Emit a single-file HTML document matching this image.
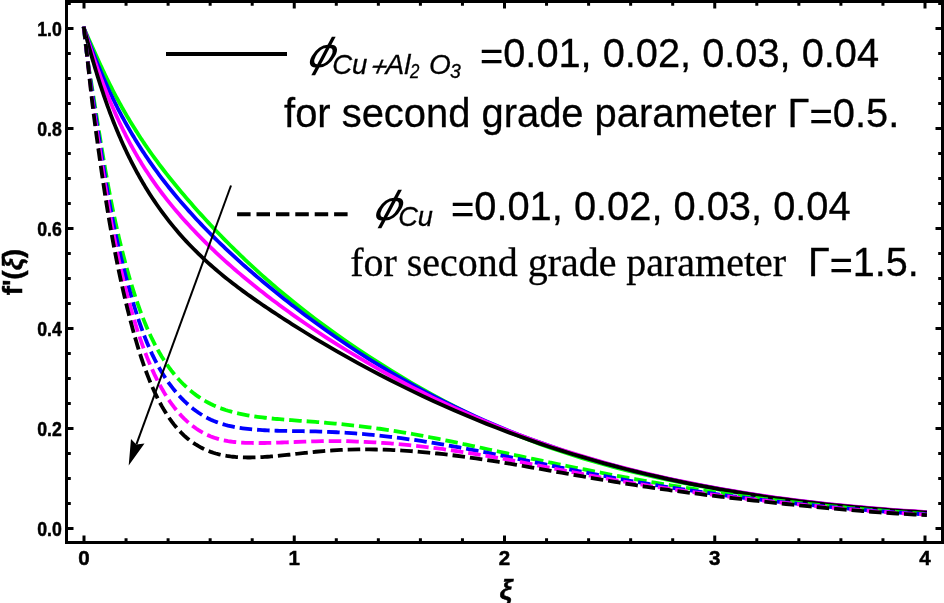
<!DOCTYPE html>
<html><head><meta charset="utf-8"><title>f'(ξ) plot</title>
<style>
html,body{margin:0;padding:0;background:#fff;}
body{width:944px;height:603px;position:relative;overflow:hidden;}
</style></head><body>
<svg width="944" height="603" viewBox="0 0 944 603" style="position:absolute;left:0;top:0;display:block">
<rect width="944" height="603" fill="#fff"/>
<path d="M84.00,28.50L84.79,30.23L85.58,31.97L86.37,33.71L87.15,35.46L87.94,37.22L88.73,38.97L89.52,40.73L90.31,42.50L91.10,44.26L91.88,46.02L92.67,47.78L93.46,49.54L94.25,51.30L95.04,53.05L95.83,54.80L96.61,56.55L97.40,58.29L98.19,60.02L98.98,61.75L99.77,63.47L100.56,65.18L101.35,66.88L102.13,68.57L102.92,70.25L103.71,71.93L104.50,73.58L105.29,75.23L106.08,76.87L106.86,78.49L107.65,80.10L108.44,81.69L109.23,83.28L110.02,84.85L110.81,86.41L111.60,87.96L112.38,89.50L113.17,91.02L113.96,92.54L114.75,94.04L115.54,95.53L116.33,97.02L117.11,98.49L117.90,99.95L118.69,101.40L119.48,102.83L120.27,104.26L121.06,105.68L121.84,107.09L122.63,108.49L123.42,109.88L124.21,111.26L125.00,112.63L125.79,113.99L126.58,115.34L127.36,116.68L128.15,118.01L128.94,119.34L129.73,120.65L130.52,121.96L131.31,123.25L132.09,124.54L132.88,125.82L133.67,127.09L134.46,128.35L135.25,129.61L136.04,130.86L136.83,132.09L137.61,133.33L138.40,134.55L139.19,135.76L139.98,136.97L140.77,138.17L141.56,139.37L142.34,140.55L143.13,141.73L143.92,142.90L144.71,144.07L145.50,145.22L146.29,146.37L147.07,147.52L149.53,151.04L151.98,154.49L154.43,157.89L156.89,161.24L159.34,164.53L161.79,167.77L164.25,170.97L166.70,174.12L169.15,177.23L171.60,180.29L174.06,183.32L176.51,186.31L178.96,189.27L181.42,192.19L183.87,195.09L186.32,197.95L188.77,200.79L191.23,203.61L193.68,206.40L196.13,209.16L198.59,211.90L201.04,214.62L203.49,217.32L205.94,219.99L208.40,222.64L210.85,225.26L213.30,227.86L215.76,230.44L218.21,233.00L220.66,235.54L223.12,238.06L225.57,240.55L228.02,243.02L230.47,245.48L232.93,247.91L235.38,250.32L237.83,252.71L240.29,255.08L242.74,257.43L245.19,259.76L247.64,262.07L250.10,264.36L252.55,266.64L255.00,268.89L257.46,271.13L259.91,273.34L262.36,275.54L264.81,277.72L267.27,279.89L269.72,282.03L272.17,284.16L274.63,286.27L277.08,288.36L279.53,290.43L281.99,292.49L284.44,294.53L286.89,296.56L289.34,298.57L291.80,300.57L294.25,302.54L304.94,311.00L315.63,319.18L326.32,327.11L337.01,334.80L347.70,342.27L358.39,349.53L369.08,356.59L379.78,363.47L390.47,370.15L401.16,376.67L411.85,383.02L422.54,389.18L433.23,395.16L443.92,400.95L454.61,406.54L465.30,411.93L475.99,417.13L486.68,422.12L497.37,426.91L508.06,431.50L518.75,435.89L529.44,440.09L540.14,444.10L550.83,447.92L561.52,451.56L572.21,455.03L582.90,458.32L593.59,461.46L604.28,464.46L614.97,467.31L625.66,470.04L636.35,472.66L647.04,475.16L657.73,477.56L668.42,479.86L679.11,482.07L689.81,484.20L700.50,486.24L711.19,488.20L721.88,490.10L732.57,491.91L743.26,493.66L753.95,495.33L764.64,496.92L775.33,498.44L786.02,499.89L796.71,501.26L807.40,502.57L818.09,503.80L828.78,504.97L839.47,506.07L850.17,507.11L860.86,508.09L871.55,509.02L882.24,509.88L892.93,510.69L903.62,511.45L914.31,512.16L925.00,512.83" fill="none" stroke="#00ff00" stroke-width="3.80" stroke-linecap="square"/>
<path d="M84.00,28.50L84.79,30.64L85.58,32.77L86.37,34.90L87.15,37.01L87.94,39.11L88.73,41.20L89.52,43.29L90.31,45.36L91.10,47.41L91.88,49.46L92.67,51.49L93.46,53.51L94.25,55.52L95.04,57.51L95.83,59.50L96.61,61.46L97.40,63.41L98.19,65.35L98.98,67.27L99.77,69.18L100.56,71.07L101.35,72.94L102.13,74.80L102.92,76.64L103.71,78.47L104.50,80.28L105.29,82.07L106.08,83.84L106.86,85.60L107.65,87.34L108.44,89.06L109.23,90.76L110.02,92.46L110.81,94.13L111.60,95.79L112.38,97.43L113.17,99.06L113.96,100.67L114.75,102.27L115.54,103.86L116.33,105.43L117.11,106.98L117.90,108.53L118.69,110.06L119.48,111.57L120.27,113.08L121.06,114.57L121.84,116.04L122.63,117.51L123.42,118.96L124.21,120.40L125.00,121.83L125.79,123.25L126.58,124.66L127.36,126.05L128.15,127.43L128.94,128.81L129.73,130.17L130.52,131.52L131.31,132.86L132.09,134.19L132.88,135.52L133.67,136.83L134.46,138.13L135.25,139.42L136.04,140.71L136.83,141.98L137.61,143.25L138.40,144.50L139.19,145.75L139.98,146.99L140.77,148.22L141.56,149.45L142.34,150.66L143.13,151.87L143.92,153.07L144.71,154.26L145.50,155.44L146.29,156.61L147.07,157.78L149.53,161.36L151.98,164.88L154.43,168.32L156.89,171.70L159.34,175.02L161.79,178.28L164.25,181.48L166.70,184.63L169.15,187.73L171.60,190.77L174.06,193.77L176.51,196.72L178.96,199.63L181.42,202.50L183.87,205.32L186.32,208.11L188.77,210.87L191.23,213.59L193.68,216.27L196.13,218.93L198.59,221.55L201.04,224.14L203.49,226.70L205.94,229.24L208.40,231.74L210.85,234.22L213.30,236.68L215.76,239.10L218.21,241.50L220.66,243.88L223.12,246.24L225.57,248.57L228.02,250.88L230.47,253.16L232.93,255.43L235.38,257.68L237.83,259.90L240.29,262.11L242.74,264.30L245.19,266.47L247.64,268.63L250.10,270.76L252.55,272.88L255.00,274.99L257.46,277.08L259.91,279.15L262.36,281.21L264.81,283.26L267.27,285.29L269.72,287.31L272.17,289.31L274.63,291.30L277.08,293.28L279.53,295.25L281.99,297.21L284.44,299.15L286.89,301.09L289.34,303.01L291.80,304.92L294.25,306.81L304.94,314.94L315.63,322.84L326.32,330.52L337.01,337.98L347.70,345.24L358.39,352.28L369.08,359.11L379.78,365.74L390.47,372.17L401.16,378.41L411.85,384.45L422.54,390.30L433.23,395.96L443.92,401.43L454.61,406.72L465.30,411.82L475.99,416.74L486.68,421.48L497.37,426.04L508.06,430.44L518.75,434.67L529.44,438.74L540.14,442.64L550.83,446.40L561.52,450.00L572.21,453.45L582.90,456.77L593.59,459.94L604.28,462.99L614.97,465.92L625.66,468.72L636.35,471.42L647.04,474.00L657.73,476.48L668.42,478.86L679.11,481.14L689.81,483.33L700.50,485.43L711.19,487.44L721.88,489.37L732.57,491.23L743.26,493.00L753.95,494.69L764.64,496.30L775.33,497.83L786.02,499.28L796.71,500.66L807.40,501.97L818.09,503.21L828.78,504.38L839.47,505.48L850.17,506.52L860.86,507.50L871.55,508.42L882.24,509.28L892.93,510.09L903.62,510.85L914.31,511.56L925.00,512.22" fill="none" stroke="#0000ff" stroke-width="3.80" stroke-linecap="square"/>
<path d="M84.00,28.50L84.79,30.96L85.58,33.41L86.37,35.85L87.15,38.27L87.94,40.68L88.73,43.08L89.52,45.46L90.31,47.82L91.10,50.17L91.88,52.51L92.67,54.83L93.46,57.13L94.25,59.42L95.04,61.69L95.83,63.94L96.61,66.17L97.40,68.39L98.19,70.58L98.98,72.76L99.77,74.92L100.56,77.06L101.35,79.18L102.13,81.28L102.92,83.36L103.71,85.42L104.50,87.46L105.29,89.48L106.08,91.47L106.86,93.45L107.65,95.40L108.44,97.34L109.23,99.25L110.02,101.15L110.81,103.02L111.60,104.88L112.38,106.72L113.17,108.54L113.96,110.34L114.75,112.12L115.54,113.88L116.33,115.63L117.11,117.36L117.90,119.07L118.69,120.76L119.48,122.44L120.27,124.10L121.06,125.75L121.84,127.38L122.63,128.99L123.42,130.58L124.21,132.17L125.00,133.73L125.79,135.28L126.58,136.82L127.36,138.34L128.15,139.84L128.94,141.34L129.73,142.81L130.52,144.28L131.31,145.73L132.09,147.16L132.88,148.59L133.67,150.00L134.46,151.39L135.25,152.78L136.04,154.15L136.83,155.50L137.61,156.85L138.40,158.18L139.19,159.50L139.98,160.81L140.77,162.11L141.56,163.40L142.34,164.67L143.13,165.94L143.92,167.19L144.71,168.43L145.50,169.66L146.29,170.88L147.07,172.09L149.53,175.79L151.98,179.40L154.43,182.92L156.89,186.36L159.34,189.71L161.79,192.99L164.25,196.19L166.70,199.33L169.15,202.40L171.60,205.41L174.06,208.36L176.51,211.26L178.96,214.11L181.42,216.91L183.87,219.67L186.32,222.38L188.77,225.05L191.23,227.69L193.68,230.29L196.13,232.86L198.59,235.39L201.04,237.90L203.49,240.37L205.94,242.81L208.40,245.22L210.85,247.60L213.30,249.95L215.76,252.28L218.21,254.57L220.66,256.85L223.12,259.09L225.57,261.32L228.02,263.51L230.47,265.69L232.93,267.84L235.38,269.97L237.83,272.08L240.29,274.17L242.74,276.24L245.19,278.28L247.64,280.31L250.10,282.32L252.55,284.31L255.00,286.29L257.46,288.24L259.91,290.18L262.36,292.11L264.81,294.02L267.27,295.91L269.72,297.79L272.17,299.65L274.63,301.50L277.08,303.34L279.53,305.16L281.99,306.97L284.44,308.77L286.89,310.55L289.34,312.32L291.80,314.08L294.25,315.83L304.94,323.29L315.63,330.53L326.32,337.55L337.01,344.37L347.70,351.00L358.39,357.44L369.08,363.70L379.78,369.79L390.47,375.72L401.16,381.49L411.85,387.10L422.54,392.55L433.23,397.85L443.92,403.00L454.61,407.99L465.30,412.82L475.99,417.51L486.68,422.04L497.37,426.43L508.06,430.66L518.75,434.76L529.44,438.71L540.14,442.52L550.83,446.19L561.52,449.73L572.21,453.14L582.90,456.42L593.59,459.57L604.28,462.61L614.97,465.53L625.66,468.33L636.35,471.03L647.04,473.62L657.73,476.11L668.42,478.49L679.11,480.79L689.81,482.98L700.50,485.09L711.19,487.12L721.88,489.06L732.57,490.91L743.26,492.69L753.95,494.38L764.64,495.99L775.33,497.53L786.02,498.98L796.71,500.37L807.40,501.67L818.09,502.91L828.78,504.08L839.47,505.18L850.17,506.22L860.86,507.20L871.55,508.12L882.24,508.98L892.93,509.79L903.62,510.55L914.31,511.26L925.00,511.92" fill="none" stroke="#ff00ff" stroke-width="3.80" stroke-linecap="square"/>
<path d="M84.00,28.50L84.79,31.48L85.58,34.44L86.37,37.37L87.15,40.27L87.94,43.15L88.73,46.00L89.52,48.83L90.31,51.63L91.10,54.40L91.88,57.14L92.67,59.86L93.46,62.55L94.25,65.22L95.04,67.85L95.83,70.46L96.61,73.04L97.40,75.60L98.19,78.13L98.98,80.63L99.77,83.10L100.56,85.54L101.35,87.96L102.13,90.35L102.92,92.71L103.71,95.04L104.50,97.35L105.29,99.63L106.08,101.88L106.86,104.10L107.65,106.30L108.44,108.46L109.23,110.61L110.02,112.72L110.81,114.82L111.60,116.88L112.38,118.93L113.17,120.95L113.96,122.94L114.75,124.91L115.54,126.86L116.33,128.79L117.11,130.69L117.90,132.58L118.69,134.44L119.48,136.28L120.27,138.10L121.06,139.90L121.84,141.68L122.63,143.43L123.42,145.17L124.21,146.90L125.00,148.60L125.79,150.28L126.58,151.95L127.36,153.59L128.15,155.22L128.94,156.84L129.73,158.43L130.52,160.01L131.31,161.58L132.09,163.12L132.88,164.65L133.67,166.17L134.46,167.67L135.25,169.15L136.04,170.62L136.83,172.08L137.61,173.52L138.40,174.94L139.19,176.36L139.98,177.75L140.77,179.14L141.56,180.51L142.34,181.87L143.13,183.22L143.92,184.55L144.71,185.87L145.50,187.17L146.29,188.47L147.07,189.75L149.53,193.67L151.98,197.47L154.43,201.17L156.89,204.76L159.34,208.26L161.79,211.66L164.25,214.97L166.70,218.20L169.15,221.34L171.60,224.41L174.06,227.40L176.51,230.32L178.96,233.17L181.42,235.96L183.87,238.68L186.32,241.34L188.77,243.95L191.23,246.51L193.68,249.01L196.13,251.46L198.59,253.87L201.04,256.23L203.49,258.54L205.94,260.81L208.40,263.05L210.85,265.24L213.30,267.39L215.76,269.51L218.21,271.60L220.66,273.65L223.12,275.67L225.57,277.66L228.02,279.62L230.47,281.55L232.93,283.46L235.38,285.34L237.83,287.20L240.29,289.04L242.74,290.85L245.19,292.64L247.64,294.42L250.10,296.17L252.55,297.91L255.00,299.63L257.46,301.33L259.91,303.03L262.36,304.70L264.81,306.37L267.27,308.02L269.72,309.66L272.17,311.30L274.63,312.92L277.08,314.53L279.53,316.14L281.99,317.73L284.44,319.32L286.89,320.90L289.34,322.47L291.80,324.03L294.25,325.58L304.94,332.25L315.63,338.76L326.32,345.12L337.01,351.33L347.70,357.39L358.39,363.31L369.08,369.09L379.78,374.73L390.47,380.24L401.16,385.61L411.85,390.86L422.54,395.97L433.23,400.95L443.92,405.80L454.61,410.51L465.30,415.10L475.99,419.55L486.68,423.88L497.37,428.08L508.06,432.14L518.75,436.09L529.44,439.91L540.14,443.60L550.83,447.18L561.52,450.63L572.21,453.97L582.90,457.19L593.59,460.30L604.28,463.30L614.97,466.19L625.66,468.98L636.35,471.65L647.04,474.23L657.73,476.71L668.42,479.09L679.11,481.37L689.81,483.56L700.50,485.67L711.19,487.68L721.88,489.62L732.57,491.47L743.26,493.23L753.95,494.92L764.64,496.52L775.33,498.05L786.02,499.50L796.71,500.88L807.40,502.18L818.09,503.41L828.78,504.58L839.47,505.68L850.17,506.71L860.86,507.69L871.55,508.61L882.24,509.48L892.93,510.29L903.62,511.05L914.31,511.76L925.00,512.43" fill="none" stroke="#000000" stroke-width="3.80" stroke-linecap="square"/>
<path d="M84.00,28.50L84.79,36.73L85.58,44.04L86.37,50.59L87.15,56.54L87.94,62.03L88.73,67.18L89.52,72.13L90.31,77.00L91.10,81.89L91.88,86.81L92.67,91.76L93.46,96.72L94.25,101.69L95.04,106.67L95.83,111.66L96.61,116.63L97.40,121.60L98.19,126.55L98.98,131.48L99.77,136.39L100.56,141.26L101.35,146.10L102.13,150.89L102.92,155.64L103.71,160.34L104.50,164.99L105.29,169.57L106.08,174.09L106.86,178.54L107.65,182.92L108.44,187.23L109.23,191.46L110.02,195.61L110.81,199.69L111.60,203.68L112.38,207.61L113.17,211.46L113.96,215.24L114.75,218.96L115.54,222.61L116.33,226.19L117.11,229.71L117.90,233.17L118.69,236.57L119.48,239.92L120.27,243.20L121.06,246.44L121.84,249.61L122.63,252.74L123.42,255.82L124.21,258.84L125.00,261.82L125.79,264.75L126.58,267.64L127.36,270.48L128.15,273.27L128.94,276.03L129.73,278.73L130.52,281.40L131.31,284.02L132.09,286.60L132.88,289.13L133.67,291.63L134.46,294.08L135.25,296.49L136.04,298.86L136.83,301.20L137.61,303.49L138.40,305.74L139.19,307.95L139.98,310.12L140.77,312.26L141.56,314.36L142.34,316.42L143.13,318.44L143.92,320.42L144.71,322.37L145.50,324.28L146.29,326.16L147.07,328.00L149.53,333.51L151.98,338.70L154.43,343.59L156.89,348.20L159.34,352.55L161.79,356.66L164.25,360.54L166.70,364.19L169.15,367.65L171.60,370.91L174.06,374.00L176.51,376.91L178.96,379.67L181.42,382.27L183.87,384.73L186.32,387.05L188.77,389.25L191.23,391.31L193.68,393.26L196.13,395.10L198.59,396.83L201.04,398.46L203.49,399.99L205.94,401.42L208.40,402.76L210.85,404.02L213.30,405.19L215.76,406.28L218.21,407.30L220.66,408.25L223.12,409.14L225.57,409.97L228.02,410.74L230.47,411.45L232.93,412.12L235.38,412.74L237.83,413.32L240.29,413.86L242.74,414.37L245.19,414.84L247.64,415.28L250.10,415.69L252.55,416.09L255.00,416.45L257.46,416.80L259.91,417.13L262.36,417.45L264.81,417.74L267.27,418.02L269.72,418.29L272.17,418.54L274.63,418.78L277.08,419.01L279.53,419.23L281.99,419.44L284.44,419.64L286.89,419.84L289.34,420.02L291.80,420.21L294.25,420.39L304.94,421.14L315.63,421.92L326.32,422.78L337.01,423.74L347.70,424.81L358.39,426.00L369.08,427.31L379.78,428.75L390.47,430.32L401.16,432.03L411.85,433.86L422.54,435.82L433.23,437.86L443.92,439.99L454.61,442.19L465.30,444.43L475.99,446.71L486.68,449.01L497.37,451.31L508.06,453.61L518.75,455.90L529.44,458.18L540.14,460.43L550.83,462.66L561.52,464.86L572.21,467.04L582.90,469.18L593.59,471.29L604.28,473.37L614.97,475.40L625.66,477.40L636.35,479.35L647.04,481.26L657.73,483.13L668.42,484.95L679.11,486.72L689.81,488.45L700.50,490.12L711.19,491.74L721.88,493.30L732.57,494.81L743.26,496.27L753.95,497.67L764.64,499.02L775.33,500.32L786.02,501.56L796.71,502.75L807.40,503.89L818.09,504.99L828.78,506.04L839.47,507.05L850.17,508.02L860.86,508.96L871.55,509.87L882.24,510.75L892.93,511.60L903.62,512.43L914.31,513.22L925.00,514.00" fill="none" stroke="#00ff00" stroke-width="3.80" stroke-linecap="square" stroke-dasharray="8.76 8.76"/>
<path d="M84.00,28.50L84.79,36.06L85.58,43.19L86.37,49.95L87.15,56.38L87.94,62.54L88.73,68.47L89.52,74.21L90.31,79.82L91.10,85.31L91.88,90.71L92.67,96.04L93.46,101.31L94.25,106.52L95.04,111.70L95.83,116.85L96.61,121.98L97.40,127.11L98.19,132.24L98.98,137.39L99.77,142.54L100.56,147.70L101.35,152.85L102.13,157.97L102.92,163.06L103.71,168.10L104.50,173.09L105.29,178.02L106.08,182.87L106.86,187.64L107.65,192.32L108.44,196.90L109.23,201.38L110.02,205.75L110.81,210.02L111.60,214.18L112.38,218.25L113.17,222.22L113.96,226.11L114.75,229.92L115.54,233.65L116.33,237.30L117.11,240.88L117.90,244.39L118.69,247.84L119.48,251.22L120.27,254.55L121.06,257.83L121.84,261.05L122.63,264.22L123.42,267.34L124.21,270.42L125.00,273.46L125.79,276.46L126.58,279.43L127.36,282.35L128.15,285.24L128.94,288.09L129.73,290.91L130.52,293.68L131.31,296.42L132.09,299.12L132.88,301.78L133.67,304.39L134.46,306.97L135.25,309.51L136.04,312.01L136.83,314.47L137.61,316.89L138.40,319.26L139.19,321.60L139.98,323.90L140.77,326.15L141.56,328.37L142.34,330.54L143.13,332.67L143.92,334.76L144.71,336.81L145.50,338.82L146.29,340.79L147.07,342.72L149.53,348.47L151.98,353.86L154.43,358.91L156.89,363.65L159.34,368.10L161.79,372.29L164.25,376.22L166.70,379.93L169.15,383.42L171.60,386.71L174.06,389.81L176.51,392.75L178.96,395.52L181.42,398.13L183.87,400.61L186.32,402.95L188.77,405.15L191.23,407.22L193.68,409.17L196.13,411.00L198.59,412.72L201.04,414.32L203.49,415.81L205.94,417.20L208.40,418.49L210.85,419.67L213.30,420.76L215.76,421.77L218.21,422.68L220.66,423.52L223.12,424.29L225.57,424.98L228.02,425.62L230.47,426.19L232.93,426.71L235.38,427.18L237.83,427.61L240.29,427.99L242.74,428.33L245.19,428.64L247.64,428.92L250.10,429.17L252.55,429.40L255.00,429.61L257.46,429.79L259.91,429.96L262.36,430.12L264.81,430.25L267.27,430.38L269.72,430.49L272.17,430.58L274.63,430.67L277.08,430.74L279.53,430.81L281.99,430.87L284.44,430.92L286.89,430.97L289.34,431.01L291.80,431.04L294.25,431.08L304.94,431.23L315.63,431.43L326.32,431.77L337.01,432.25L347.70,432.88L358.39,433.65L369.08,434.57L379.78,435.62L390.47,436.82L401.16,438.15L411.85,439.61L422.54,441.19L433.23,442.88L443.92,444.67L454.61,446.55L465.30,448.50L475.99,450.52L486.68,452.59L497.37,454.71L508.06,456.85L518.75,459.03L529.44,461.21L540.14,463.40L550.83,465.58L561.52,467.75L572.21,469.89L582.90,472.00L593.59,474.08L604.28,476.11L614.97,478.10L625.66,480.03L636.35,481.91L647.04,483.73L657.73,485.50L668.42,487.20L679.11,488.85L689.81,490.44L700.50,491.98L711.19,493.47L721.88,494.90L732.57,496.29L743.26,497.64L753.95,498.94L764.64,500.19L775.33,501.40L786.02,502.58L796.71,503.71L807.40,504.80L818.09,505.86L828.78,506.87L839.47,507.85L850.17,508.78L860.86,509.68L871.55,510.54L882.24,511.37L892.93,512.15L903.62,512.90L914.31,513.62L925.00,514.30" fill="none" stroke="#0000ff" stroke-width="3.80" stroke-linecap="square" stroke-dasharray="8.76 8.76"/>
<path d="M84.00,28.50L84.79,35.21L85.58,42.12L86.37,49.14L87.15,56.20L87.94,63.22L88.73,70.15L89.52,76.92L90.31,83.46L91.10,89.75L91.88,95.79L92.67,101.62L93.46,107.28L94.25,112.80L95.04,118.20L95.83,123.52L96.61,128.78L97.40,134.01L98.19,139.23L98.98,144.46L99.77,149.72L100.56,154.99L101.35,160.25L102.13,165.50L102.92,170.72L103.71,175.91L104.50,181.05L105.29,186.13L106.08,191.15L106.86,196.09L107.65,200.95L108.44,205.72L109.23,210.39L110.02,214.96L110.81,219.43L111.60,223.80L112.38,228.08L113.17,232.26L113.96,236.37L114.75,240.39L115.54,244.32L116.33,248.18L117.11,251.97L117.90,255.69L118.69,259.33L119.48,262.91L120.27,266.43L121.06,269.88L121.84,273.28L122.63,276.61L123.42,279.90L124.21,283.13L125.00,286.30L125.79,289.43L126.58,292.51L127.36,295.55L128.15,298.54L128.94,301.48L129.73,304.38L130.52,307.23L131.31,310.04L132.09,312.80L132.88,315.52L133.67,318.19L134.46,320.83L135.25,323.42L136.04,325.96L136.83,328.47L137.61,330.93L138.40,333.35L139.19,335.73L139.98,338.07L140.77,340.37L141.56,342.63L142.34,344.85L143.13,347.03L143.92,349.18L144.71,351.28L145.50,353.35L146.29,355.38L147.07,357.38L149.53,363.35L151.98,368.99L154.43,374.31L156.89,379.33L159.34,384.07L161.79,388.53L164.25,392.73L166.70,396.68L169.15,400.40L171.60,403.90L174.06,407.17L176.51,410.25L178.96,413.13L181.42,415.82L183.87,418.33L186.32,420.67L188.77,422.86L191.23,424.89L193.68,426.78L196.13,428.53L198.59,430.14L201.04,431.64L203.49,433.01L205.94,434.26L208.40,435.40L210.85,436.43L213.30,437.36L215.76,438.19L218.21,438.93L220.66,439.59L223.12,440.17L225.57,440.68L228.02,441.12L230.47,441.50L232.93,441.83L235.38,442.11L237.83,442.33L240.29,442.52L242.74,442.67L245.19,442.79L247.64,442.88L250.10,442.94L252.55,442.99L255.00,443.01L257.46,443.03L259.91,443.02L262.36,443.01L264.81,442.98L267.27,442.94L269.72,442.89L272.17,442.83L274.63,442.76L277.08,442.69L279.53,442.61L281.99,442.52L284.44,442.43L286.89,442.33L289.34,442.24L291.80,442.14L294.25,442.04L304.94,441.61L315.63,441.28L326.32,441.11L337.01,441.10L347.70,441.26L358.39,441.58L369.08,442.06L379.78,442.68L390.47,443.45L401.16,444.36L411.85,445.40L422.54,446.56L433.23,447.84L443.92,449.24L454.61,450.75L465.30,452.36L475.99,454.07L486.68,455.87L497.37,457.74L508.06,459.69L518.75,461.70L529.44,463.76L540.14,465.84L550.83,467.93L561.52,470.02L572.21,472.10L582.90,474.15L593.59,476.16L604.28,478.13L614.97,480.05L625.66,481.90L636.35,483.70L647.04,485.42L657.73,487.07L668.42,488.66L679.11,490.18L689.81,491.65L700.50,493.07L711.19,494.44L721.88,495.77L732.57,497.07L743.26,498.33L753.95,499.55L764.64,500.76L775.33,501.93L786.02,503.08L796.71,504.20L807.40,505.31L818.09,506.38L828.78,507.42L839.47,508.41L850.17,509.36L860.86,510.26L871.55,511.10L882.24,511.89L892.93,512.63L903.62,513.31L914.31,513.93L925.00,514.50" fill="none" stroke="#ff00ff" stroke-width="3.80" stroke-linecap="square" stroke-dasharray="8.76 8.76"/>
<path d="M84.00,28.50L84.79,35.07L85.58,41.99L86.37,49.15L87.15,56.46L87.94,63.85L88.73,71.22L89.52,78.50L90.31,85.63L91.10,92.54L91.88,99.25L92.67,105.77L93.46,112.13L94.25,118.34L95.04,124.41L95.83,130.37L96.61,136.23L97.40,141.99L98.19,147.69L98.98,153.32L99.77,158.90L100.56,164.42L101.35,169.88L102.13,175.27L102.92,180.59L103.71,185.84L104.50,191.02L105.29,196.11L106.08,201.13L106.86,206.07L107.65,210.92L108.44,215.69L109.23,220.37L110.02,224.96L110.81,229.46L111.60,233.88L112.38,238.23L113.17,242.49L113.96,246.68L114.75,250.79L115.54,254.84L116.33,258.82L117.11,262.73L117.90,266.57L118.69,270.36L119.48,274.09L120.27,277.75L121.06,281.37L121.84,284.92L122.63,288.43L123.42,291.88L124.21,295.29L125.00,298.64L125.79,301.95L126.58,305.22L127.36,308.44L128.15,311.61L128.94,314.74L129.73,317.82L130.52,320.86L131.31,323.86L132.09,326.80L132.88,329.70L133.67,332.56L134.46,335.36L135.25,338.13L136.04,340.84L136.83,343.51L137.61,346.14L138.40,348.71L139.19,351.25L139.98,353.73L140.77,356.18L141.56,358.57L142.34,360.93L143.13,363.24L143.92,365.50L144.71,367.72L145.50,369.90L146.29,372.03L147.07,374.13L149.53,380.36L151.98,386.21L154.43,391.70L156.89,396.84L159.34,401.65L161.79,406.15L164.25,410.37L166.70,414.31L169.15,417.98L171.60,421.42L174.06,424.61L176.51,427.59L178.96,430.35L181.42,432.91L183.87,435.29L186.32,437.49L188.77,439.52L191.23,441.41L193.68,443.14L196.13,444.75L198.59,446.22L201.04,447.57L203.49,448.81L205.94,449.94L208.40,450.97L210.85,451.90L213.30,452.74L215.76,453.49L218.21,454.16L220.66,454.76L223.12,455.28L225.57,455.74L228.02,456.13L230.47,456.47L232.93,456.75L235.38,456.98L237.83,457.16L240.29,457.30L242.74,457.40L245.19,457.46L247.64,457.49L250.10,457.48L252.55,457.45L255.00,457.39L257.46,457.31L259.91,457.21L262.36,457.08L264.81,456.93L267.27,456.77L269.72,456.58L272.17,456.38L274.63,456.17L277.08,455.94L279.53,455.71L281.99,455.46L284.44,455.20L286.89,454.93L289.34,454.66L291.80,454.38L294.25,454.10L304.94,452.88L315.63,451.75L326.32,450.83L337.01,450.14L347.70,449.68L358.39,449.43L369.08,449.40L379.78,449.57L390.47,449.93L401.16,450.47L411.85,451.18L422.54,452.05L433.23,453.06L443.92,454.22L454.61,455.50L465.30,456.90L475.99,458.40L486.68,459.99L497.37,461.67L508.06,463.41L518.75,465.21L529.44,467.05L540.14,468.92L550.83,470.81L561.52,472.70L572.21,474.59L582.90,476.45L593.59,478.30L604.28,480.11L614.97,481.88L625.66,483.61L636.35,485.28L647.04,486.90L657.73,488.47L668.42,489.98L679.11,491.44L689.81,492.85L700.50,494.22L711.19,495.56L721.88,496.85L732.57,498.11L743.26,499.34L753.95,500.55L764.64,501.72L775.33,502.87L786.02,503.99L796.71,505.09L807.40,506.16L818.09,507.21L828.78,508.22L839.47,509.18L850.17,510.10L860.86,510.97L871.55,511.78L882.24,512.54L892.93,513.25L903.62,513.90L914.31,514.50L925.00,515.04" fill="none" stroke="#000000" stroke-width="3.80" stroke-linecap="square" stroke-dasharray="8.76 8.76"/>
<path d="M84.00,542.5V535.50M84.00,1.5V8.50M126.05,542.5V538.20M126.05,1.5V5.80M168.10,542.5V538.20M168.10,1.5V5.80M210.15,542.5V538.20M210.15,1.5V5.80M252.20,542.5V538.20M252.20,1.5V5.80M294.25,542.5V535.50M294.25,1.5V8.50M336.30,542.5V538.20M336.30,1.5V5.80M378.35,542.5V538.20M378.35,1.5V5.80M420.40,542.5V538.20M420.40,1.5V5.80M462.45,542.5V538.20M462.45,1.5V5.80M504.50,542.5V535.50M504.50,1.5V8.50M546.55,542.5V538.20M546.55,1.5V5.80M588.60,542.5V538.20M588.60,1.5V5.80M630.65,542.5V538.20M630.65,1.5V5.80M672.70,542.5V538.20M672.70,1.5V5.80M714.75,542.5V535.50M714.75,1.5V8.50M756.80,542.5V538.20M756.80,1.5V5.80M798.85,542.5V538.20M798.85,1.5V5.80M840.90,542.5V538.20M840.90,1.5V5.80M882.95,542.5V538.20M882.95,1.5V5.80M925.00,542.5V535.50M925.00,1.5V8.50M66.5,528.50H73.50M942.5,528.50H935.50M66.5,503.50H70.80M942.5,503.50H938.20M66.5,478.50H70.80M942.5,478.50H938.20M66.5,453.50H70.80M942.5,453.50H938.20M66.5,428.50H73.50M942.5,428.50H935.50M66.5,403.50H70.80M942.5,403.50H938.20M66.5,378.50H70.80M942.5,378.50H938.20M66.5,353.50H70.80M942.5,353.50H938.20M66.5,328.50H73.50M942.5,328.50H935.50M66.5,303.50H70.80M942.5,303.50H938.20M66.5,278.50H70.80M942.5,278.50H938.20M66.5,253.50H70.80M942.5,253.50H938.20M66.5,228.50H73.50M942.5,228.50H935.50M66.5,203.50H70.80M942.5,203.50H938.20M66.5,178.50H70.80M942.5,178.50H938.20M66.5,153.50H70.80M942.5,153.50H938.20M66.5,128.50H73.50M942.5,128.50H935.50M66.5,103.50H70.80M942.5,103.50H938.20M66.5,78.50H70.80M942.5,78.50H938.20M66.5,53.50H70.80M942.5,53.50H938.20M66.5,28.50H73.50M942.5,28.50H935.50M66.5,3.50H70.80M942.5,3.50H938.20" stroke="#000" stroke-width="3" fill="none"/>
<rect x="66.5" y="1.5" width="876" height="541" fill="none" stroke="#000" stroke-width="3"/>
<path d="M231,185.5L136.4,444.3" stroke="#000" stroke-width="2.00" fill="none"/>
<path d="M128.7,465.5L131,439L136.3,444.6L144.5,443.5Z" fill="#000"/>
<path d="M166,54.05H287" stroke="#000" stroke-width="3.9"/>
<path d="M237.1,214.2H348" stroke="#000" stroke-width="4" stroke-dasharray="13.5 5.9"/>
<text x="61.80" y="536.10" font-size="20.50" font-family="'Liberation Sans',Arial,sans-serif" font-weight="bold" text-anchor="end" textLength="24.60" lengthAdjust="spacingAndGlyphs" stroke="#000" stroke-width="0.50">0.0</text>
<text x="61.80" y="436.10" font-size="20.50" font-family="'Liberation Sans',Arial,sans-serif" font-weight="bold" text-anchor="end" textLength="24.60" lengthAdjust="spacingAndGlyphs" stroke="#000" stroke-width="0.50">0.2</text>
<text x="61.80" y="336.10" font-size="20.50" font-family="'Liberation Sans',Arial,sans-serif" font-weight="bold" text-anchor="end" textLength="24.60" lengthAdjust="spacingAndGlyphs" stroke="#000" stroke-width="0.50">0.4</text>
<text x="61.80" y="236.10" font-size="20.50" font-family="'Liberation Sans',Arial,sans-serif" font-weight="bold" text-anchor="end" textLength="24.60" lengthAdjust="spacingAndGlyphs" stroke="#000" stroke-width="0.50">0.6</text>
<text x="61.80" y="136.10" font-size="20.50" font-family="'Liberation Sans',Arial,sans-serif" font-weight="bold" text-anchor="end" textLength="24.60" lengthAdjust="spacingAndGlyphs" stroke="#000" stroke-width="0.50">0.8</text>
<text x="61.80" y="36.10" font-size="20.50" font-family="'Liberation Sans',Arial,sans-serif" font-weight="bold" text-anchor="end" textLength="24.60" lengthAdjust="spacingAndGlyphs" stroke="#000" stroke-width="0.50">1.0</text>
<text x="84.00" y="564.80" font-size="20.50" font-family="'Liberation Sans',Arial,sans-serif" font-weight="bold" text-anchor="middle" stroke="#000" stroke-width="0.50">0</text>
<text x="294.25" y="564.80" font-size="20.50" font-family="'Liberation Sans',Arial,sans-serif" font-weight="bold" text-anchor="middle" stroke="#000" stroke-width="0.50">1</text>
<text x="504.50" y="564.80" font-size="20.50" font-family="'Liberation Sans',Arial,sans-serif" font-weight="bold" text-anchor="middle" stroke="#000" stroke-width="0.50">2</text>
<text x="714.75" y="564.80" font-size="20.50" font-family="'Liberation Sans',Arial,sans-serif" font-weight="bold" text-anchor="middle" stroke="#000" stroke-width="0.50">3</text>
<text x="925.00" y="564.80" font-size="20.50" font-family="'Liberation Sans',Arial,sans-serif" font-weight="bold" text-anchor="middle" stroke="#000" stroke-width="0.50">4</text>
<text x="506.00" y="598.50" font-size="28.50" font-family="'Liberation Sans',Arial,sans-serif" font-weight="bold" font-style="italic" text-anchor="middle" stroke="#000" stroke-width="0.50">&#958;</text>
<text transform="translate(22.30,272.00) rotate(-90)" font-size="27.50" font-family="'Liberation Sans',Arial,sans-serif" font-weight="bold" text-anchor="middle" stroke="#000" stroke-width="0.50">f&#39;(<tspan font-style="italic">&#958;</tspan>)</text>
<text transform="translate(306.00,67.00) skewX(-18.0) scale(1.06,1)" font-size="40.00" font-family="'DejaVu Sans',sans-serif" font-style="italic">&#981;</text>
<text transform="translate(372.20,219.80) skewX(-18.0) scale(1.06,1)" font-size="40.00" font-family="'DejaVu Sans',sans-serif" font-style="italic">&#981;</text>
<text transform="translate(375.90,75.60) skewX(-22.0)" font-size="28.00" font-family="'Liberation Sans',Arial,sans-serif" text-anchor="middle" stroke="#000" stroke-width="0.30">+</text>
<text x="480.00" y="66.90" font-size="40.40" font-family="'Liberation Sans',Arial,sans-serif" textLength="399.06" lengthAdjust="spacingAndGlyphs" stroke="#000" stroke-width="0.30"><tspan dy="2.60">=</tspan><tspan dy="-2.60">0.01, 0.02, 0.03, 0.04</tspan></text>
<text x="451.00" y="219.90" font-size="40.40" font-family="'Liberation Sans',Arial,sans-serif" textLength="399.66" lengthAdjust="spacingAndGlyphs" stroke="#000" stroke-width="0.30"><tspan dy="2.60">=</tspan><tspan dy="-2.60">0.01, 0.02, 0.03, 0.04</tspan></text>
<text x="284.10" y="127.30" font-size="40.00" font-family="'Liberation Sans',Arial,sans-serif" textLength="615.24" lengthAdjust="spacingAndGlyphs" stroke="#000" stroke-width="0.30">for second grade parameter &#915;<tspan dy="2.60">=</tspan><tspan dy="-2.60">0.5.</tspan></text>
<text x="350.20" y="276.20" font-size="39.80" font-family="'Liberation Serif','Times New Roman',serif" textLength="435.84" lengthAdjust="spacingAndGlyphs" stroke="#000" stroke-width="0.30">for second grade parameter</text>
<text x="807.90" y="276.20" font-size="41.00" font-family="'Liberation Sans',Arial,sans-serif" textLength="110.91" lengthAdjust="spacingAndGlyphs" stroke="#000" stroke-width="0.30">&#915;<tspan dy="2.60">=</tspan><tspan dy="-2.60">1.5.</tspan></text>
<text x="332.20" y="73.60" font-size="28.00" font-family="'Liberation Sans',Arial,sans-serif" font-style="italic" textLength="35.19" lengthAdjust="spacingAndGlyphs" stroke="#000" stroke-width="0.30">Cu</text>
<text x="385.50" y="73.60" font-size="28.00" font-family="'Liberation Sans',Arial,sans-serif" font-style="italic" textLength="24.90" lengthAdjust="spacingAndGlyphs" stroke="#000" stroke-width="0.30">Al</text>
<text x="410.00" y="78.40" font-size="20.50" font-family="'Liberation Sans',Arial,sans-serif" font-style="italic" textLength="9.40" lengthAdjust="spacingAndGlyphs" stroke="#000" stroke-width="0.30">2</text>
<text x="429.00" y="73.60" font-size="28.00" font-family="'Liberation Sans',Arial,sans-serif" font-style="italic" textLength="21.78" lengthAdjust="spacingAndGlyphs" stroke="#000" stroke-width="0.30">O</text>
<text x="450.00" y="78.40" font-size="20.50" font-family="'Liberation Sans',Arial,sans-serif" font-style="italic" textLength="10.80" lengthAdjust="spacingAndGlyphs" stroke="#000" stroke-width="0.30">3</text>
<text x="398.20" y="226.20" font-size="28.00" font-family="'Liberation Sans',Arial,sans-serif" font-style="italic" textLength="34.79" lengthAdjust="spacingAndGlyphs" stroke="#000" stroke-width="0.30">Cu</text>
</svg>
</body></html>
